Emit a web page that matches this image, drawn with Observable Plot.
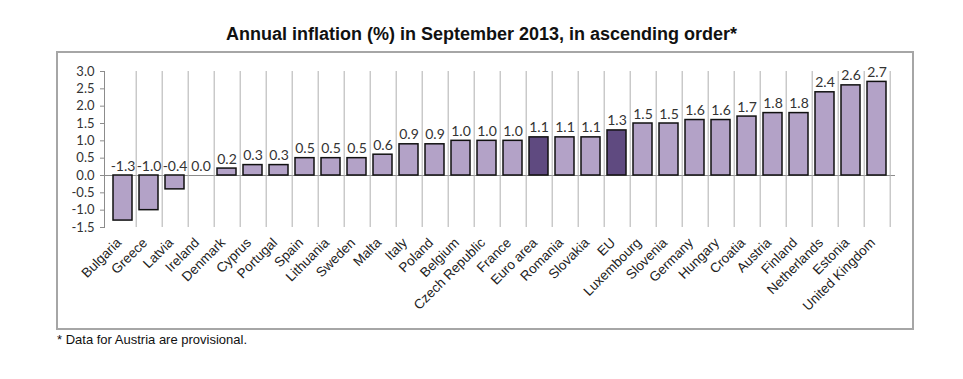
<!DOCTYPE html>
<html><head><meta charset="utf-8">
<script src="https://cdn.jsdelivr.net/npm/d3@7"></script>
<script src="https://cdn.jsdelivr.net/npm/@observablehq/plot@0.6"></script>
<style>
body{margin:0;background:#fff;}
#wrap{position:relative;width:963px;height:379px;overflow:hidden;font-family:"Liberation Sans",Arial,sans-serif;}
#title{position:absolute;left:0;width:963px;top:24px;text-align:center;font-weight:bold;font-size:18px;color:#111;}
#box{position:absolute;left:56px;top:51px;width:854px;height:275px;border:2px solid #a6a6a6;}
#box svg{display:block;}
#cap{position:absolute;left:57px;top:332px;font-size:13px;color:#111;}
</style></head>
<body>
<div id="wrap">
<div id="title">Annual inflation (%) in September 2013, in ascending order*</div>
<div id="box"></div>
<div id="cap">* Data for Austria are provisional.</div>
</div>
<script>
const countries = ["Bulgaria","Greece","Latvia","Ireland","Denmark","Cyprus","Portugal","Spain","Lithuania","Sweden","Malta","Italy","Poland","Belgium","Czech Republic","France","Euro area","Romania","Slovakia","EU","Luxembourg","Slovenia","Germany","Hungary","Croatia","Austria","Finland","Netherlands","Estonia","United Kingdom"];
const values = [-1.3,-1.0,-0.4,0.0,0.2,0.3,0.3,0.5,0.5,0.5,0.6,0.9,0.9,1.0,1.0,1.0,1.1,1.1,1.1,1.3,1.5,1.5,1.6,1.6,1.7,1.8,1.8,2.4,2.6,2.7];
const highlighted = ["Euro area","EU"];
const yTicks = [-1.5,-1.0,-0.5,0.0,0.5,1.0,1.5,2.0,2.5,3.0];

const data = countries.map((c,i)=>({country:c, value:values[i], hl: highlighted.includes(c)}));

const W = 854, ML = 46, MR = 17;
const halfStep = (W - ML - MR) / countries.length / 2;

const chart = Plot.plot({
  width: W, height: 275,
  marginLeft: ML, marginRight: MR, marginTop: 18, marginBottom: 101,
  x: {domain: countries, padding: 0.28, label: null},
  y: {domain: [-1.5, 3.0], label: null},
  style: {fontFamily: "Lato, sans-serif", background: "#fff"},
  marks: [
    Plot.frame({anchor: "left", stroke: "#8c8c8c"}),
    Plot.ruleY([0], {stroke: "#8c8c8c"}),
    Plot.tickX(countries, {x: d => d, y1: 0, y2: -0.1, dx: halfStep, stroke: "#b0b0b0"}),
    Plot.barY(data, {x: "country", y: "value", fill: d => d.hl ? "#5f4a80" : "#b3a2c7", stroke: "#111", strokeWidth: 1.5}),
    Plot.text(data, {x: "country", y: d => Math.max(d.value, 0), text: d => d.value.toFixed(1), lineAnchor: "bottom", dy: -5, fontSize: 14, fill: "#333", fontFamily: "Lato, sans-serif"}),
    Plot.axisY({ticks: yTicks, tickFormat: d => d.toFixed(1), tickSize: 4, tickPadding: 6, fontSize: 13, color: "#333", stroke: "#8c8c8c", fontFamily: "Lato, sans-serif"}),
    Plot.axisX({tickSize: 0, tickRotate: -45, tickPadding: 10, dx: -4, dy: 3, fontSize: 13.5, color: "#222", fontFamily: "Liberation Sans, Arial, sans-serif"})
  ]
});
document.getElementById("box").appendChild(chart);
</script>
</body></html>
